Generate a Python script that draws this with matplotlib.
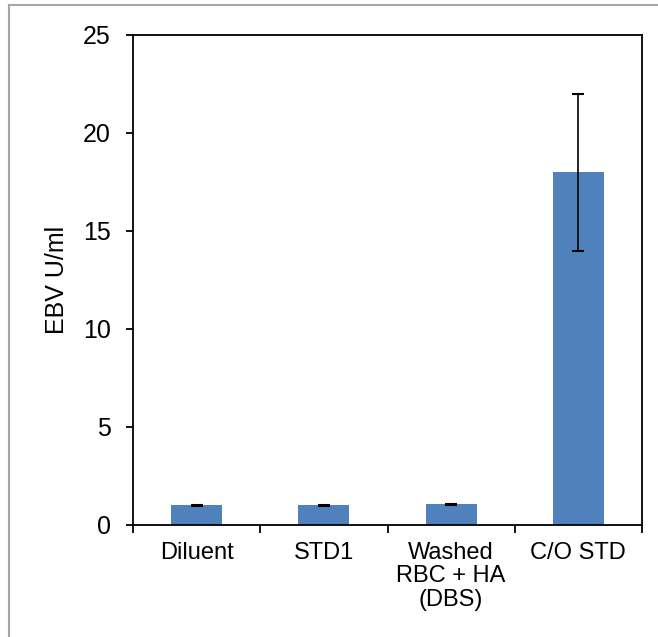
import matplotlib.pyplot as plt
from matplotlib.lines import Line2D
import numpy as np

plt.rcParams['font.family'] = ['Liberation Sans', 'DejaVu Sans']

categories = ['Diluent', 'STD1', 'Washed\nRBC + HA\n(DBS)', 'C/O STD']
values = [1.0, 1.0, 1.05, 18.0]
errors = [0.03, 0.03, 0.04, 4.0]
y_ticks = [0, 5, 10, 15, 20, 25]


def main():
    fig = plt.figure(figsize=(6.58, 6.37), dpi=100)
    # chart area border (only left and top edges show in the original)
    x0, y1 = 9 / 658, 1 - 5 / 637
    fig.lines.append(Line2D([x0, x0], [0, y1], transform=fig.transFigure,
                            color='#A6A6A6', linewidth=1.5))
    fig.lines.append(Line2D([x0, 1], [y1, y1], transform=fig.transFigure,
                            color='#A6A6A6', linewidth=1.5))
    ax = fig.add_axes([133 / 658, 1 - 525 / 637, 509 / 658, 490 / 637])

    x = np.arange(len(categories))
    ax.bar(x, values, width=0.4, color='#4F81BD', zorder=2)
    ax.errorbar(x, values, yerr=errors, fmt='none', ecolor='black',
                elinewidth=1.2, capsize=4, capthick=1.5, zorder=3)

    ax.set_xlim(-0.5, len(categories) - 0.5)
    ax.set_ylim(0, 25)
    ax.set_yticks(y_ticks)
    ax.set_xticks(x)
    ax.set_xticklabels(categories, fontsize=17, linespacing=1.1)
    ax.set_xticks(np.arange(len(categories) + 1) - 0.5, minor=True)
    ax.tick_params(axis='x', which='major', length=0, pad=12)
    ax.tick_params(axis='x', which='minor', length=6, width=1.3, direction='out')
    ax.tick_params(axis='y', labelsize=18, length=5, width=1.3, pad=11)
    ax.set_ylabel('EBV U/ml', fontsize=18, labelpad=10)
    for s in ax.spines.values():
        s.set_linewidth(1.3)

    fig.savefig('out.png', dpi=100)


if __name__ == '__main__':
    main()
